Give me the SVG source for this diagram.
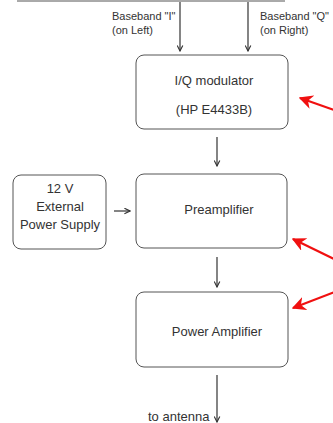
<svg xmlns="http://www.w3.org/2000/svg" width="333" height="423" viewBox="0 0 333 423">
<defs>
<marker id="ah" viewBox="0 0 10 10" refX="9" refY="5" markerWidth="7" markerHeight="7" markerUnits="userSpaceOnUse" orient="auto">
<path d="M1,1 L9,5 L1,9" fill="none" stroke="#333" stroke-width="1.6"/>
</marker>
<marker id="rh" viewBox="0 0 10 10" refX="1" refY="5" markerWidth="14" markerHeight="14" markerUnits="userSpaceOnUse" orient="auto">
<path d="M0,5 L10,0 L7,5 L10,10 Z" fill="#f01010"/>
</marker>
<style>
.box{fill:#fff;stroke:#555;stroke-width:1}
.t{font-family:"Liberation Sans",Arial,sans-serif;font-size:13px;fill:#333}
.s{font-family:"Liberation Sans",Arial,sans-serif;font-size:11px;fill:#333}
.c{stroke:#333;stroke-width:1.2;fill:none;marker-end:url(#ah)}
.r{stroke:#f01010;stroke-width:2.2;fill:none;marker-start:url(#rh)}
</style>
</defs>
<rect width="333" height="423" fill="#fff"/>
<line x1="17" y1="1" x2="285" y2="1" stroke="#555" stroke-width="1"/>
<g id="iq">
<rect class="box" x="136" y="55" width="152" height="74" rx="8"/>
<text class="t" x="214" y="85" text-anchor="middle">I/Q modulator</text>
<text class="t" x="214" y="114" text-anchor="middle">(HP E4433B)</text>
</g>
<g id="preamp">
<rect class="box" x="136" y="174" width="151" height="74" rx="8"/>
<text class="t" x="219" y="214" text-anchor="middle">Preamplifier</text>
</g>
<g id="psu">
<rect class="box" x="13" y="175" width="93" height="74" rx="8"/>
<text class="t" x="60" y="193" text-anchor="middle">12 V</text>
<text class="t" x="60" y="211" text-anchor="middle">External</text>
<text class="t" x="60" y="229" text-anchor="middle">Power Supply</text>
</g>
<g id="pa">
<rect class="box" x="136" y="292" width="152" height="75" rx="8"/>
<text class="t" x="217" y="336" text-anchor="middle">Power Amplifier</text>
</g>
<g id="connectors">
<line class="c" x1="180" y1="2" x2="180" y2="51"/>
<line class="c" x1="248" y1="2" x2="248" y2="51"/>
<line class="c" x1="217" y1="137" x2="217" y2="166"/>
<line class="c" x1="114" y1="211" x2="130" y2="211"/>
<line class="c" x1="217" y1="257" x2="217" y2="287"/>
<line class="c" x1="217" y1="375" x2="217" y2="422"/>
<line class="r" x1="300" y1="98" x2="340" y2="112"/>
<line class="r" x1="293" y1="239" x2="340" y2="262"/>
<line class="r" x1="293" y1="308" x2="340" y2="290"/>
</g>
<text class="s" x="112" y="20">Baseband "I"</text>
<text class="s" x="112" y="34">(on Left)</text>
<text class="s" x="260" y="20">Baseband "Q"</text>
<text class="s" x="260" y="34">(on Right)</text>
<text class="t" x="148" y="421">to antenna</text>
</svg>
